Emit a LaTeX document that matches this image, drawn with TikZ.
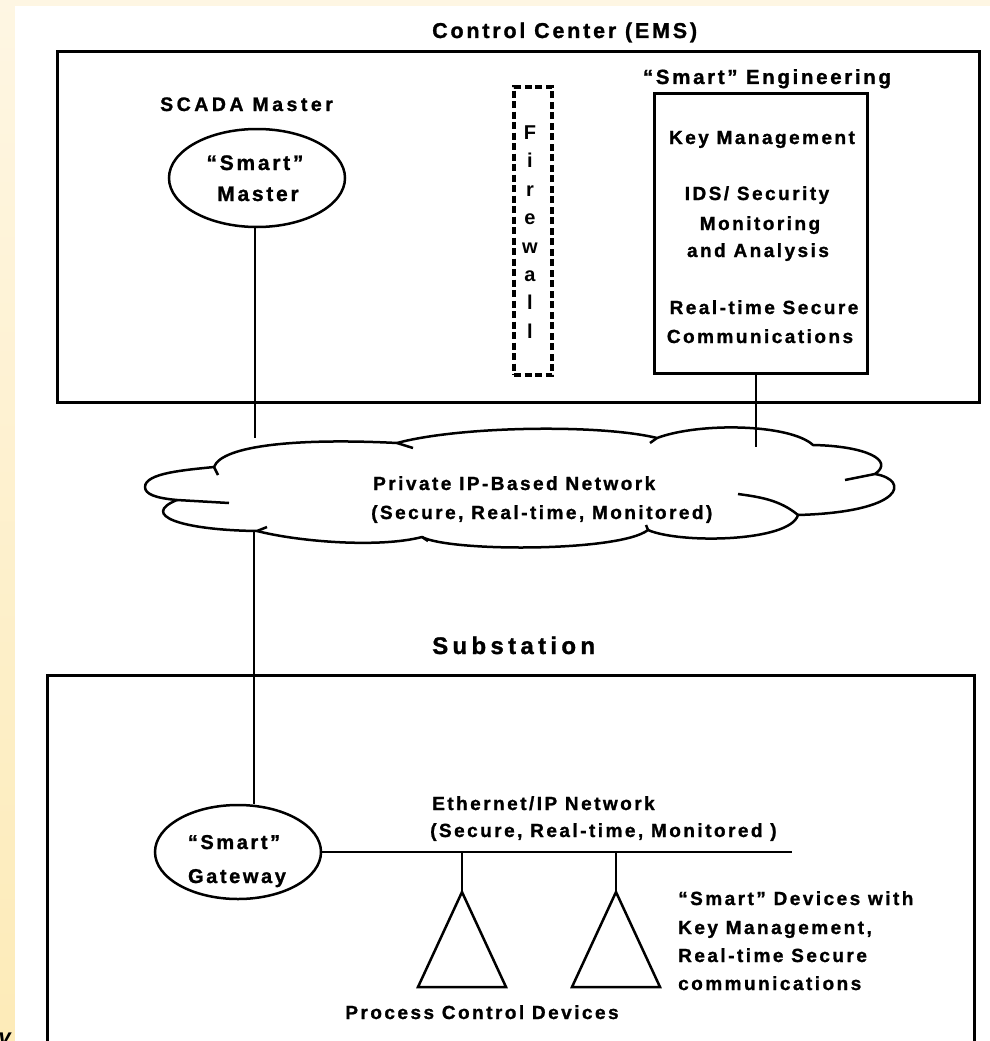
\documentclass[tikz,border=0pt]{standalone}
\usepackage{fontspec}
\setmainfont{Liberation Sans}
\newfontfamily\trackedsans[LetterSpace=13, BoldFeatures={FakeBold=1.2}]{Liberation Sans}
\newfontfamily\widesans[LetterSpace=18, BoldFeatures={FakeBold=1.2}]{Liberation Sans}
\usetikzlibrary{shapes.geometric}
\definecolor{paper}{HTML}{FEF6E3}
\definecolor{paperdeep}{HTML}{FDEBB8}
\begin{document}
\begin{tikzpicture}[x=1pt,y=-1pt,
  txt/.style={font=\trackedsans\bfseries\fontsize{19}{30}\selectfont, inner sep=0pt, align=center},
  head/.style={font=\trackedsans\bfseries\fontsize{21.5}{30}\selectfont, inner sep=0pt},
  frame/.style={draw, line width=3pt, inner sep=0pt},
  wire/.style={line width=2.5pt},
  oval/.style={ellipse, draw, line width=2.5pt, inner sep=0pt},
  fwall/.style={draw, line width=4.2pt, dash pattern=on 7pt off 3.5pt, inner sep=0pt},
  device/.style={line width=2.5pt, line join=miter}
]
\useasboundingbox (0,0) rectangle (990,1041);
% page background
\shade[top color=paper, bottom color=paperdeep] (0,0) rectangle (990,1041);
\fill[white] (15,6) rectangle (990,1041);
\node[anchor=base east, font=\bfseries\itshape\fontsize{22}{22}\selectfont, inner sep=0pt] (cut) at (11,1044) {v};

% ---------------- control center ----------------
\node[head, anchor=base west] (cctitle) at (432,38) {Control Center (EMS)};
\node[frame, minimum width=922pt, minimum height=350pt] (cc) at (518,227) {};

\node[txt, font=\widesans\bfseries\fontsize{19.5}{30}\selectfont, anchor=base west] (scada) at (160,111) {SCADA Master};
\node[oval, minimum width=176pt, minimum height=98pt] (master) at (257,178) {};
\node[txt, font=\trackedsans\bfseries\fontsize{21}{30}\selectfont, anchor=base] (masterA) at (255,170) {“Smart”};
\node[txt, font=\trackedsans\bfseries\fontsize{21}{30}\selectfont, anchor=base] (masterB) at (258,201) {Master};

\node[fwall, minimum width=38pt, minimum height=288pt] (fw) at (533,231) {};
\node[txt, font=\bfseries\fontsize{20}{28.4}\selectfont] (fwtext) at (530,232) {F\\i\\r\\e\\w\\a\\l\\l};

\node[txt, font=\trackedsans\bfseries\fontsize{20.5}{30}\selectfont, anchor=base] (engtitle) at (767,84) {“Smart” Engineering};
\node[frame, minimum width=213pt, minimum height=280pt] (eng) at (760.5,233) {};
\node[txt, anchor=base] (key) at (762,144) {Key Management};
\node[txt, anchor=base] (ids) at (757,200) {IDS/ Security};
\node[txt, anchor=base] (mon) at (760,230) {Monitoring};
\node[txt, anchor=base] (ana) at (758,257) {and Analysis};
\node[txt, anchor=base] (rts) at (764,314) {Real-time Secure};
\node[txt, anchor=base] (com) at (760,343) {Communications};

% ---------------- private network cloud ----------------
\draw[line width=2.5pt, line join=round]
  (145,487) .. controls (145,473) and (185,470) .. (214,467)
  .. controls (222,445) and (300,438) .. (397,443)
  .. controls (460,426) and (600,424) .. (657,438)
  .. controls (700,422) and (790,424) .. (813,445)
  .. controls (865,446) and (895,460) .. (875,474)
  .. controls (910,480) and (905,512) .. (798,515)
  .. controls (790,542) and (680,544) .. (648,530)
  .. controls (620,552) and (450,552) .. (422,537)
  .. controls (380,548) and (300,542) .. (257,531)
  .. controls (180,530) and (140,515) .. (177,500)
  .. controls (155,498) and (145,494) .. (145,487);
% folds between the lobes
\draw[line width=2.5pt]
  (214,467) -- (218,475)
  (397,443) -- (413,448)
  (657,438) -- (650,443)
  (875,474) -- (845,480)
  (798,515) .. controls (780,500) and (760,497) .. (738,494)
  (648,530) -- (646,525)
  (422,537) -- (428,541)
  (257,531) -- (267,527)
  (177,500) -- (229,503);
\node[txt, anchor=base west] (netA) at (373,490) {Private IP-Based Network};
\node[txt, anchor=base west] (netB) at (371,519) {(Secure, Real-time, Monitored)};

\coordinate (cTopL) at (255,438);
\coordinate (cBotL) at (254,531);
\coordinate (cTopR) at (756,447);

% ---------------- substation ----------------
\node[font=\widesans\bfseries\fontsize{24}{30}\selectfont, inner sep=0pt, anchor=base west] (subtitle) at (432,654) {Substation};
\node[frame, minimum width=927pt, minimum height=400pt] (sub) at (510.5,875) {};

\node[oval, minimum width=166pt, minimum height=94pt] (gw) at (238,852) {};
\node[txt, font=\trackedsans\bfseries\fontsize{20}{30}\selectfont, anchor=base] (gwA) at (234,849) {“Smart”};
\node[txt, font=\trackedsans\bfseries\fontsize{20}{30}\selectfont, anchor=base] (gwB) at (237,883) {Gateway};

\node[txt, anchor=base west] (ethA) at (432,810) {Ethernet/IP Network};
\node[txt, anchor=base west] (ethB) at (430,837) {(Secure, Real-time, Monitored )};
\coordinate (ethEnd) at (792,852);

\coordinate (d1) at (462,892);
\coordinate (d2) at (616,892);
\draw[device] (d1) -- ++(-44,95) -- ++(88,0) -- cycle;
\draw[device] (d2) -- ++(-44,95) -- ++(88,0) -- cycle;

\node[txt, anchor=base west] (sdA) at (678,905) {“Smart” Devices with};
\node[txt, anchor=base west] (sdB) at (678,934) {Key Management,};
\node[txt, anchor=base west] (sdC) at (678,962) {Real-time Secure};
\node[txt, anchor=base west] (sdD) at (678,990) {communications};
\node[txt, anchor=base] (pcd) at (482,1019) {Process Control Devices};

% ---------------- connectors ----------------
\draw[wire] (cTopL |- master.south) -- (cTopL);
\draw[wire] (cTopR |- eng.south) -- (cTopR);
\draw[wire] (cBotL) -- (cBotL |- gw.north);
\draw[wire] (gw.east) -- (ethEnd);
\draw[wire] (d1 |- gw.east) -- (d1);
\draw[wire] (d2 |- gw.east) -- (d2);
\end{tikzpicture}
\end{document}
